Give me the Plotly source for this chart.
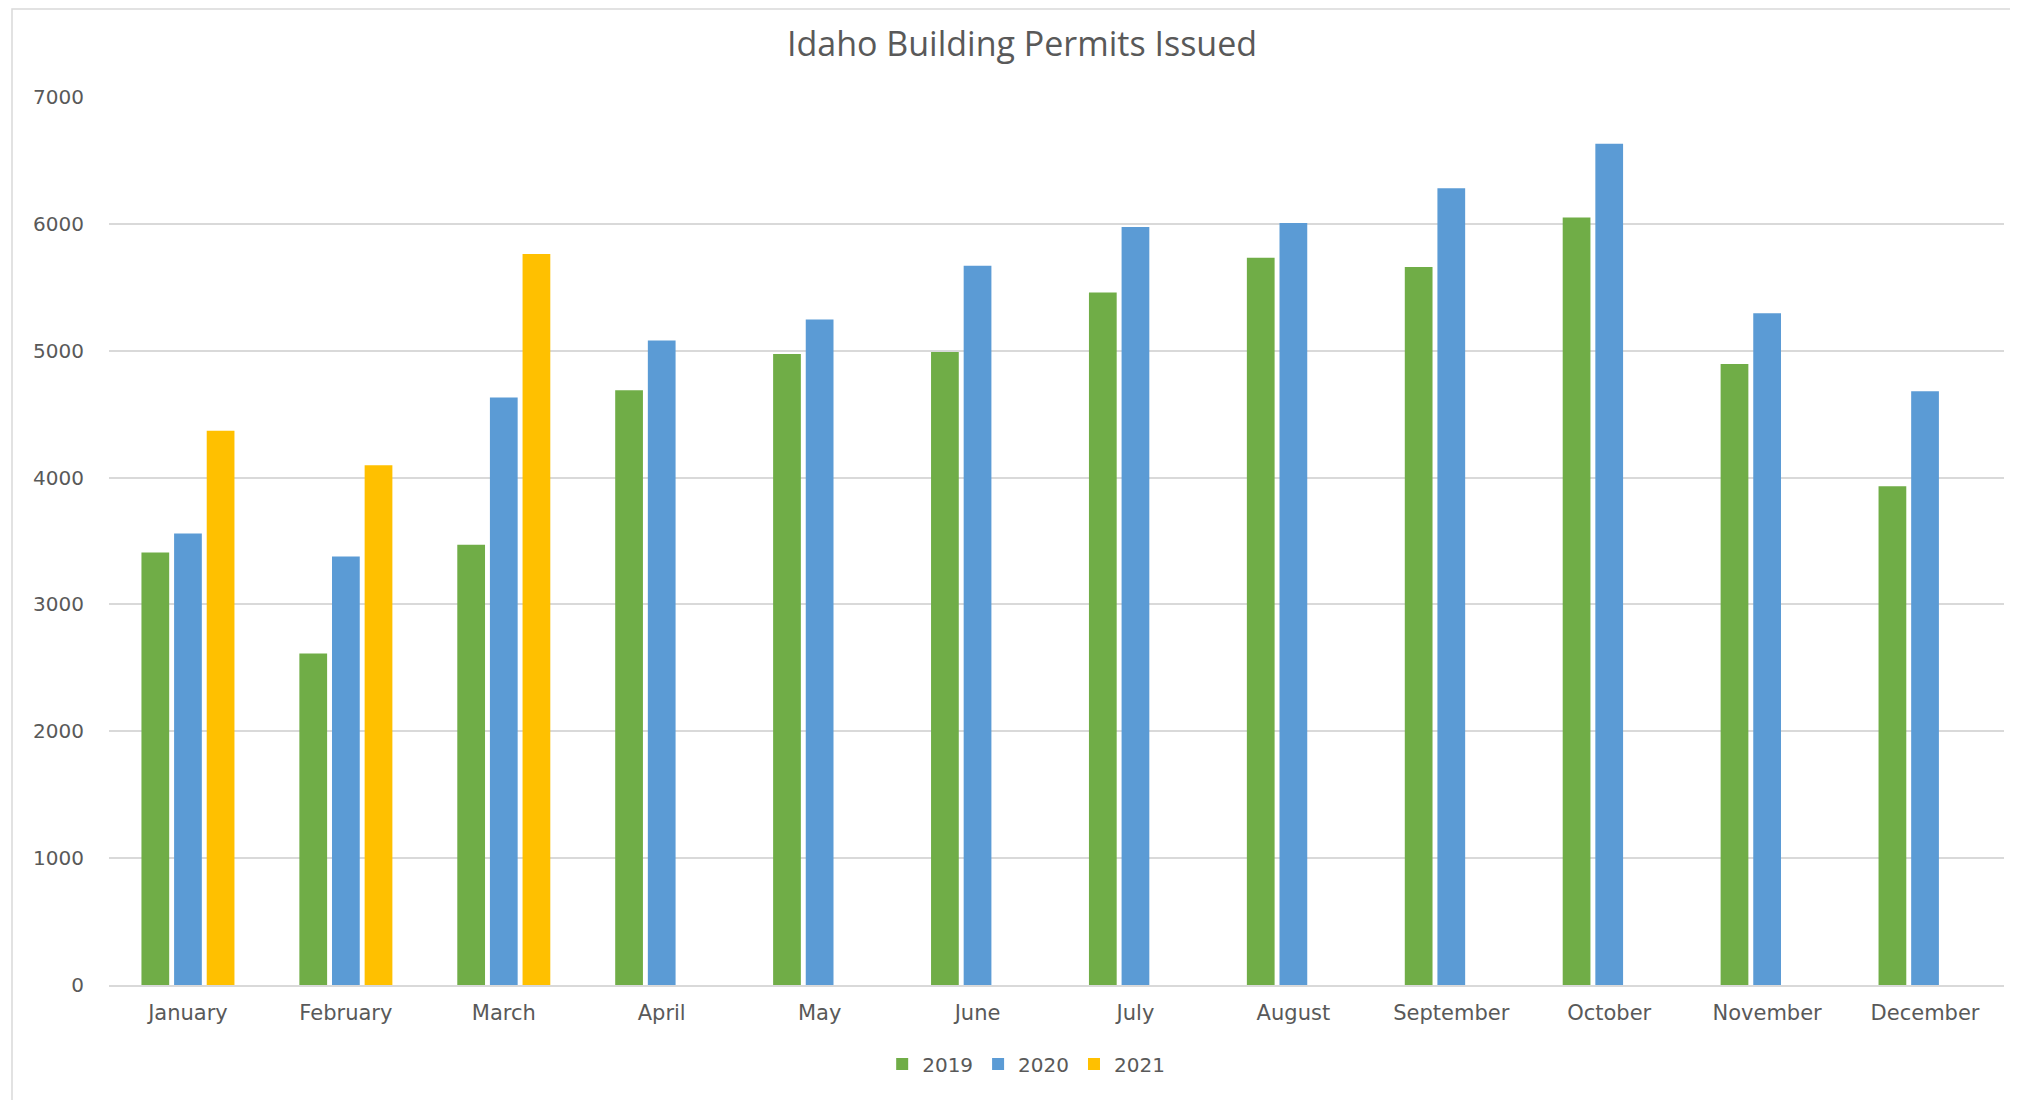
import plotly.graph_objects as go

months = ["January", "February", "March", "April", "May", "June",
          "July", "August", "September", "October", "November", "December"]
permits_2019 = [3410, 2614, 3470, 4688, 4974, 4990, 5458, 5732, 5660, 6050, 4895, 3932]
permits_2020 = [3560, 3378, 4632, 5080, 5247, 5670, 5975, 6006, 6280, 6632, 5295, 4680]
permits_2021 = [4370, 4097, 5763, None, None, None, None, None, None, None, None, None]

series = [
    ("2019", permits_2019, "#70AD47"),
    ("2020", permits_2020, "#5B9BD5"),
    ("2021", permits_2021, "#FFC000"),
]

fig = go.Figure()
for name, vals, color in series:
    fig.add_trace(go.Bar(
        x=months, y=vals, name=name,
        marker=dict(color=color, line=dict(width=0)),
    ))

tick_font = dict(family="DejaVu Sans", size=20, color="#595959")

# page body has an 8px margin, so the figure is a bit smaller than the window
W, H = 2010, 1092
L, R, T, B = 101, 14, 89, 115
pw, ph = W - L - R, H - T - B

fig.update_layout(
    width=W, height=H,
    margin=dict(l=L, r=R, t=T, b=B),
    paper_bgcolor="white", plot_bgcolor="white",
    barmode="group", bargap=0.38, bargroupgap=0.15,
    title=dict(text="Idaho Building Permits Issued", x=0.5045, xanchor="center",
               y=1 - 36 / H, yanchor="middle",
               font=dict(family="Open Sans", size=34, color="#595959")),
    legend=dict(orientation="h", x=0.484, xanchor="center", y=-0.089, yanchor="middle",
                font=tick_font, itemclick=False),
    showlegend=True,
)

fig.update_yaxes(range=[0, 7000], dtick=1000, showgrid=True, gridcolor="#d9d9d9",
                 gridwidth=1.5, zeroline=False, showline=False, tickfont=tick_font,
                 ticks="", ticklabelstandoff=24)
fig.update_xaxes(showgrid=False, showline=True, linecolor="#d9d9d9", linewidth=1.5,
                 tickfont=dict(family="DejaVu Sans", size=21, color="#595959"),
                 ticks="", ticklabelstandoff=8)

# thin frame around the whole chart
fig.add_shape(type="rect", xref="paper", yref="paper",
              x0=(4 - L) / pw, x1=(W + 20 - L) / pw,
              y0=(T + ph - H - 20) / ph, y1=(T + ph - 1) / ph,
              line=dict(color="#d9d9d9", width=1.5), layer="below")

fig.write_html("out.html")
